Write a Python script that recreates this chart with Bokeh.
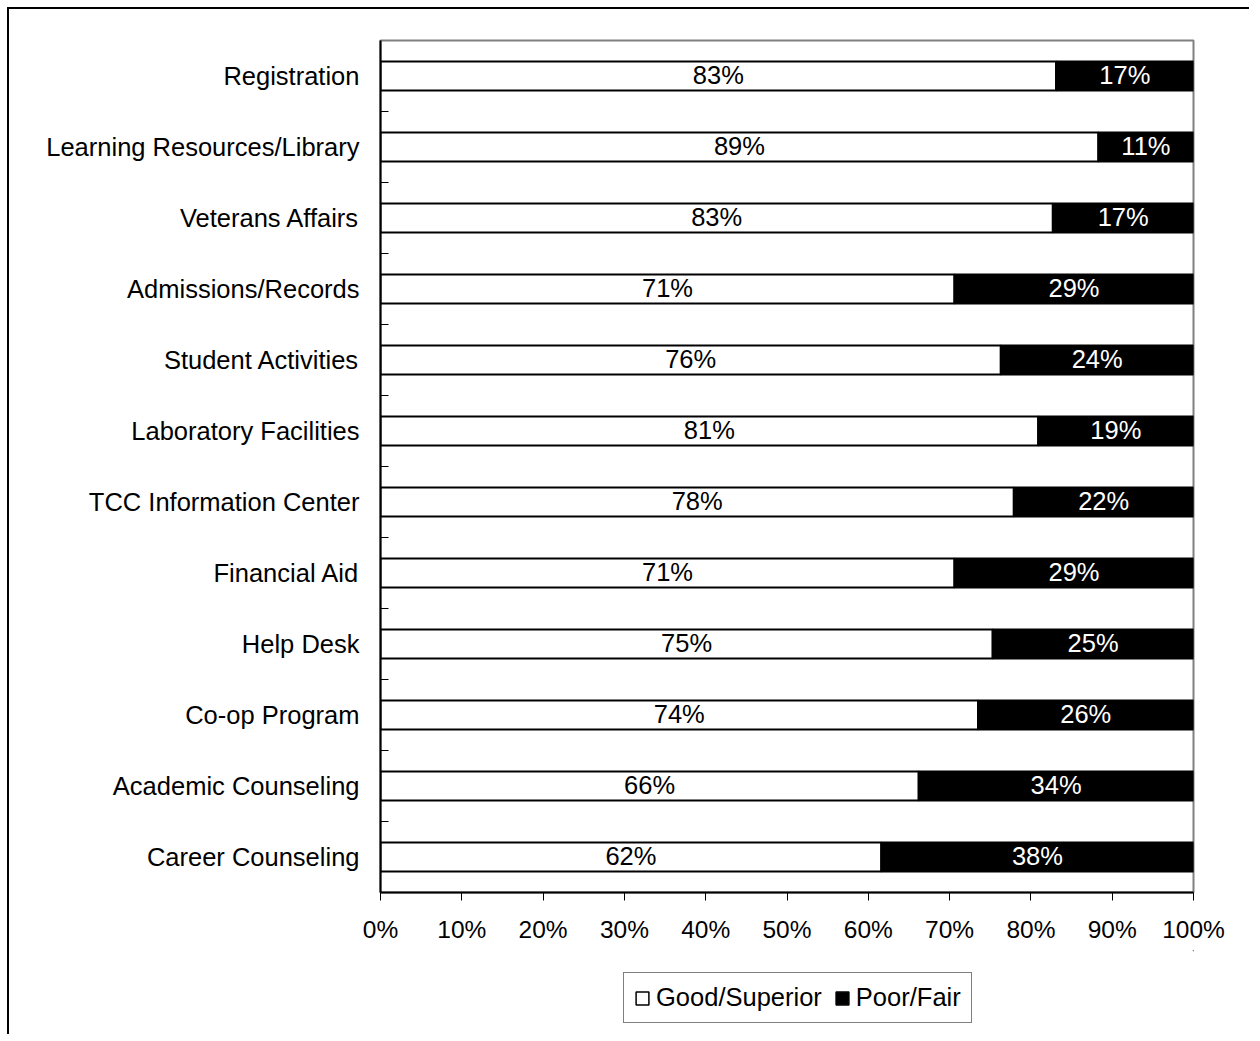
from bokeh.plotting import figure
from bokeh.layouts import column
from bokeh.models import ColumnDataSource, FixedTicker, PrintfTickFormatter, Range1d, Legend, LegendItem
from bokeh.core.properties import value
from bokeh.embed import file_html
from bokeh.resources import INLINE

categories = ["Registration", "Learning Resources/Library", "Veterans Affairs", "Admissions/Records",
              "Student Activities", "Laboratory Facilities", "TCC Information Center", "Financial Aid",
              "Help Desk", "Co-op Program", "Academic Counseling", "Career Counseling"]
good = [83.1, 88.3, 82.7, 70.6, 76.3, 80.9, 77.9, 70.6, 75.3, 73.5, 66.2, 61.6]
good_labels = ["83%", "89%", "83%", "71%", "76%", "81%", "78%", "71%", "75%", "74%", "66%", "62%"]
poor_labels = ["17%", "11%", "17%", "29%", "24%", "19%", "22%", "29%", "25%", "26%", "34%", "38%"]
series_names = ["Good/Superior", "Poor/Fair"]
x_ticks = [0, 10, 20, 30, 40, 50, 60, 70, 80, 90, 100]

FONT = "Liberation Sans"
n = len(categories)
ypos = [n - 1 - i for i in range(n)]
poor = [100 - g for g in good]

src = ColumnDataSource(dict(
    y=ypos, good=good, poor=poor,
    zero=[0] * n, total=[100] * n,
    good_mid=[g / 2 for g in good],
    poor_mid=[g + (100 - g) / 2 for g in good],
    good_lab=good_labels, poor_lab=poor_labels,
))

p = figure(frame_width=811, frame_height=850, output_backend="svg", toolbar_location=None,
           x_range=Range1d(0, 100), y_range=Range1d(-0.5, n - 0.5),
           min_border_left=371, min_border_top=31, min_border_right=58, min_border_bottom=60)
p.styles = {"border-top": "2px solid black", "border-left": "2px solid black",
            "margin-left": "7px", "margin-top": "7px"}

p.grid.visible = False
p.outline_line_color = "#808080"
p.outline_line_width = 2
p.background_fill_color = "white"
p.border_fill_color = "white"

p.hbar(y="y", left="zero", right="good", height=0.41, source=src,
       fill_color="white", line_color="black", line_width=2)
p.hbar(y="y", left="good", right="total", height=0.41, source=src,
       fill_color="black", line_color="black", line_width=2)

p.text(x="good_mid", y="y", text="good_lab", source=src, text_align="center",
       text_baseline="middle", text_font=value(FONT), text_font_size="25.5px", text_color="black",
       y_offset=-1)
p.text(x="poor_mid", y="y", text="poor_lab", source=src, text_align="center",
       text_baseline="middle", text_font=value(FONT), text_font_size="25.5px", text_color="white",
       y_offset=-1)

# x axis
p.xaxis.ticker = FixedTicker(ticks=x_ticks)
p.xaxis.formatter = PrintfTickFormatter(format="%d%%")
p.xaxis.major_tick_in = 0
p.xaxis.major_tick_out = 8
p.xaxis.minor_tick_line_color = None
p.xaxis.axis_line_width = 2
p.xaxis.major_tick_line_width = 1
p.xaxis.major_label_text_font = FONT
p.xaxis.major_label_text_font_size = "24.5px"
p.xaxis.major_label_text_color = "black"
p.xaxis.major_label_standoff = 15

# y axis: labels at centres, minor ticks at boundaries
p.yaxis.ticker = FixedTicker(ticks=ypos, minor_ticks=[k + 0.5 for k in range(n - 1)])
p.yaxis.major_label_overrides = {y: c for y, c in zip(ypos, categories)}
p.yaxis.major_tick_in = 0
p.yaxis.major_tick_out = 0
p.yaxis.minor_tick_in = 8
p.yaxis.minor_tick_out = 0
p.yaxis.minor_tick_line_color = "black"
p.yaxis.axis_line_width = 2
p.yaxis.major_label_text_font = FONT
p.yaxis.major_label_text_font_size = "25.5px"
p.yaxis.major_label_text_color = "black"
p.yaxis.major_label_standoff = 21

# legend strip below the chart (its frame is aligned with the chart's frame)
p2 = figure(width=1242, height=84, output_backend="svg", toolbar_location=None,
            x_range=Range1d(0, 1), y_range=Range1d(0, 1),
            min_border_left=0, min_border_right=0, min_border_top=0, min_border_bottom=0)
p2.styles = {"border-left": "2px solid black", "margin-left": "7px"}
p2.axis.visible = False
p2.grid.visible = False
p2.outline_line_color = None
p2.background_fill_color = "white"
p2.border_fill_color = "white"
# legend-only renderers, placed far outside the visible ranges
lg_good = p2.hbar(y=50, left=50, right=51, height=0.1,
                  fill_color="white", line_color="black", line_width=1.5)
lg_poor = p2.hbar(y=50, left=50, right=51, height=0.1,
                  fill_color="black", line_color="black", line_width=1.5)

legend = Legend(items=[LegendItem(label=series_names[0], renderers=[lg_good]),
                       LegendItem(label=series_names[1], renderers=[lg_poor])],
                orientation="horizontal", location=(243, 11))
legend.label_text_font = FONT
legend.label_text_font_size = "25.5px"
legend.label_text_color = "black"
legend.glyph_width = 16
legend.glyph_height = 16
legend.label_standoff = 6
legend.spacing = 12
legend.padding = 10
legend.margin = 0
legend.border_line_color = "black"
legend.border_line_width = 1
legend.background_fill_color = "white"
legend.background_fill_alpha = 1
p2.add_layout(legend, "center")

layout = column(p, p2, spacing=0)
open("out.html", "w").write(file_html(layout, INLINE))
